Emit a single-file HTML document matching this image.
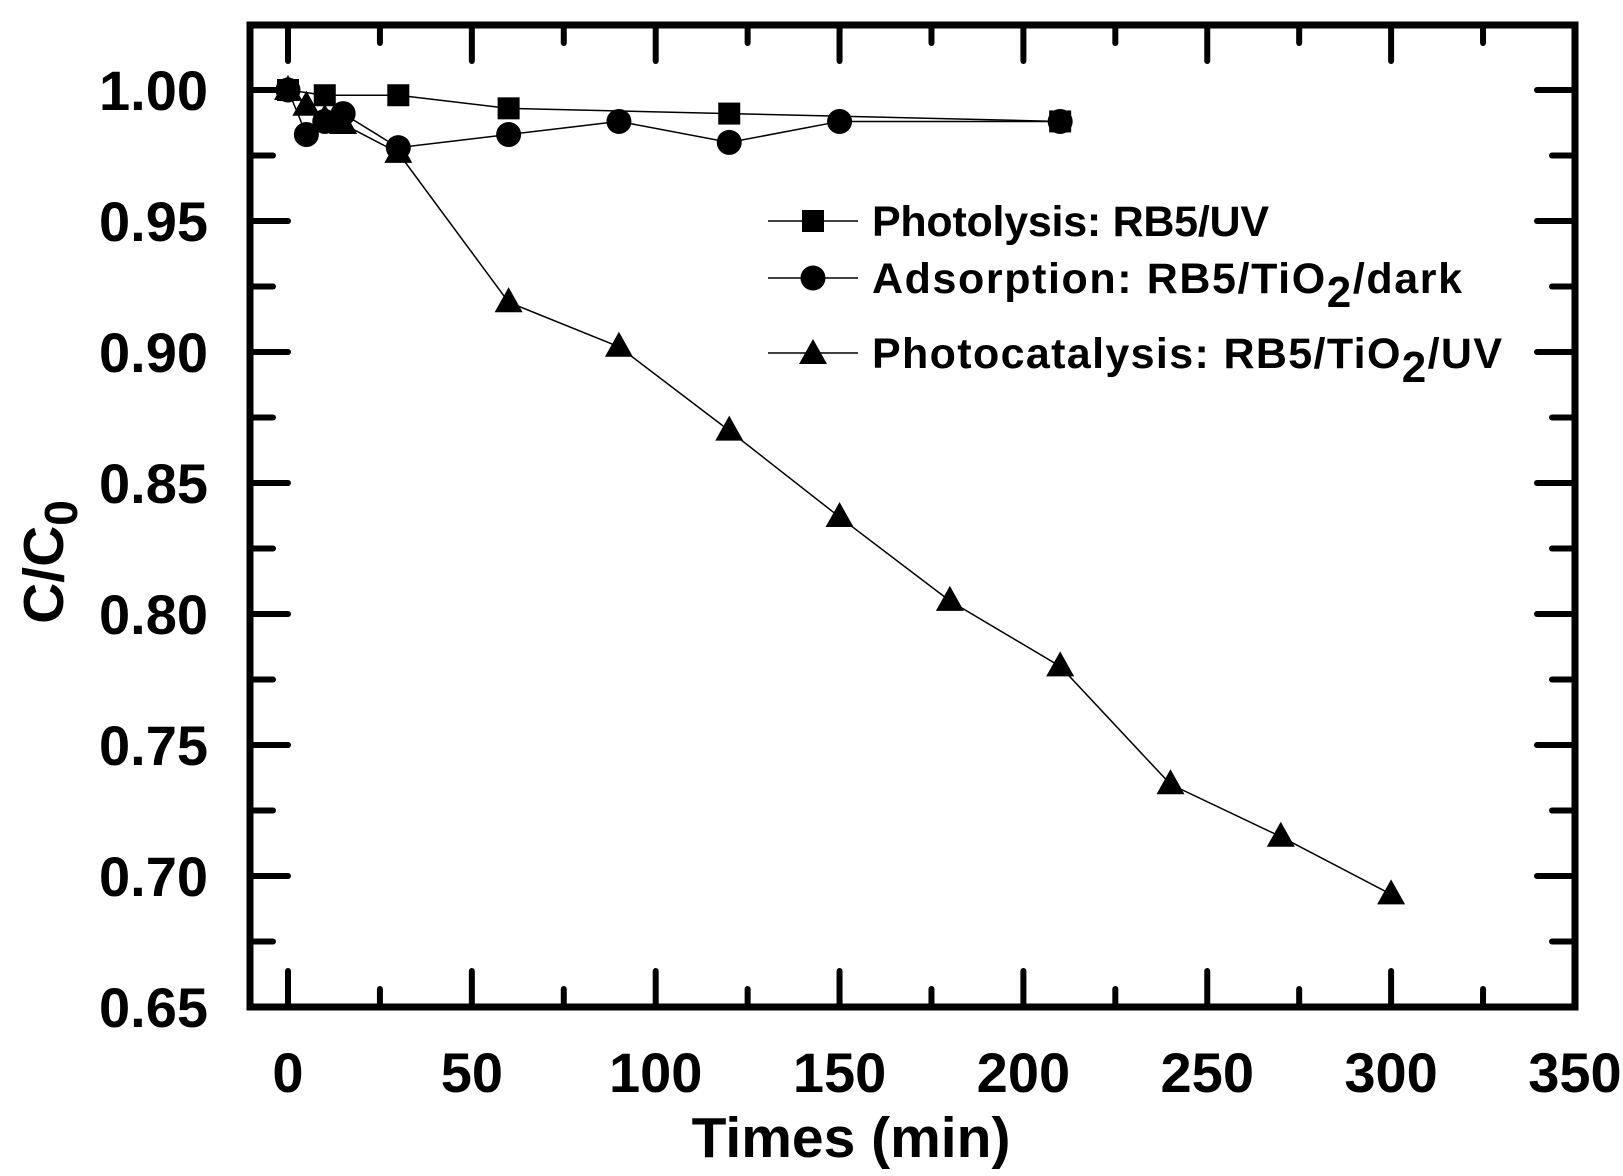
<!DOCTYPE html>
<html><head><meta charset="utf-8"><style>
html,body{margin:0;padding:0;background:#fff;}
svg{display:block;}
text{font-family:"Liberation Sans",Arial,sans-serif;font-weight:bold;fill:#000;}
</style></head><body>
<svg width="1623" height="1176" viewBox="0 0 1623 1176" xmlns="http://www.w3.org/2000/svg">
<g id="ticks" stroke="#000" stroke-width="6" stroke-linecap="round"></g>
<rect x="250" y="25" width="1325" height="982" fill="none" stroke="#000" stroke-width="7"/>
<g id="data"></g>
<g id="labels" font-size="56"></g>
<text x="851" y="1157" font-size="57" text-anchor="middle">Times (min)</text>
<text transform="translate(63,562) rotate(-90)" font-size="57" text-anchor="middle">C/C<tspan font-size="46" dy="14">0</tspan></text>
<g font-size="43">
<line x1="768" y1="221" x2="858" y2="221" stroke="#000" stroke-width="1.5"/>
<rect x="802" y="210" width="22" height="22"/>
<text x="872" y="236" textLength="397" lengthAdjust="spacing">Photolysis: RB5/UV</text>
<line x1="768" y1="278" x2="858" y2="278" stroke="#000" stroke-width="1.5"/>
<circle cx="813" cy="278" r="12.5"/>
<text x="872" y="293" textLength="590" lengthAdjust="spacing">Adsorption: RB5/TiO<tspan font-size="44" dy="14">2</tspan><tspan dy="-14">/dark</tspan></text>
<line x1="768" y1="353" x2="858" y2="353" stroke="#000" stroke-width="1.5"/>
<polygon points="813,339 827,364 799,364"/>
<text x="872" y="368" textLength="630" lengthAdjust="spacing">Photocatalysis: RB5/TiO<tspan font-size="44" dy="14">2</tspan><tspan dy="-14">/UV</tspan></text>
</g>
</svg>
<script>
const NS="http://www.w3.org/2000/svg";
const X=v=>288+3.677*v, Y=v=>90+(1-v)*2620;
const tk=document.getElementById('ticks'), lb=document.getElementById('labels'), dg=document.getElementById('data');
function el(p,n,a,t){const e=document.createElementNS(NS,n);for(const k in a)e.setAttribute(k,a[k]);if(t)e.textContent=t;p.appendChild(e);return e;}
for(let v=0;v<=350;v+=25){const x=X(v),L=v%50==0?36:18;
 el(tk,'line',{x1:x,y1:1007,x2:x,y2:1007-L});el(tk,'line',{x1:x,y1:25,x2:x,y2:25+L});
 if(v%50==0)el(lb,'text',{x:x,y:1092,'text-anchor':'middle'},String(v));}
for(let i=0;i<=15;i++){const v=0.65+i*0.025,y=Y(v),L=i%2==0?38:23;
 el(tk,'line',{x1:250,y1:y,x2:250+L,y2:y});el(tk,'line',{x1:1575,y1:y,x2:1575-L,y2:y});
 if(i%2==0)el(lb,'text',{x:208,y:y+20,'text-anchor':'end'},v.toFixed(2));}
const P=[[0,1],[10,.998],[30,.998],[60,.993],[120,.991],[210,.988]];
const A=[[0,1],[5,.983],[10,.988],[15,.991],[30,.978],[60,.983],[90,.988],[120,.980],[150,.988],[210,.988]];
const T=[[0,1],[5,.994],[10,.989],[15,.987],[30,.976],[60,.919],[90,.902],[120,.870],[150,.837],[180,.805],[210,.780],[240,.735],[270,.715],[300,.693]];
function line(d){el(dg,'polyline',{points:d.map(p=>X(p[0])+','+Y(p[1])).join(' '),fill:'none',stroke:'#000','stroke-width':1.5});}
line(P);line(A);line(T);
P.forEach(p=>el(dg,'rect',{x:X(p[0])-11,y:Y(p[1])-11,width:22,height:22}));
A.forEach(p=>el(dg,'circle',{cx:X(p[0]),cy:Y(p[1]),r:12.5}));
T.forEach(p=>{const x=X(p[0]),y=Y(p[1]);el(dg,'polygon',{points:`${x},${y-15} ${x+14},${y+10} ${x-14},${y+10}`});});
</script>
</body></html>
